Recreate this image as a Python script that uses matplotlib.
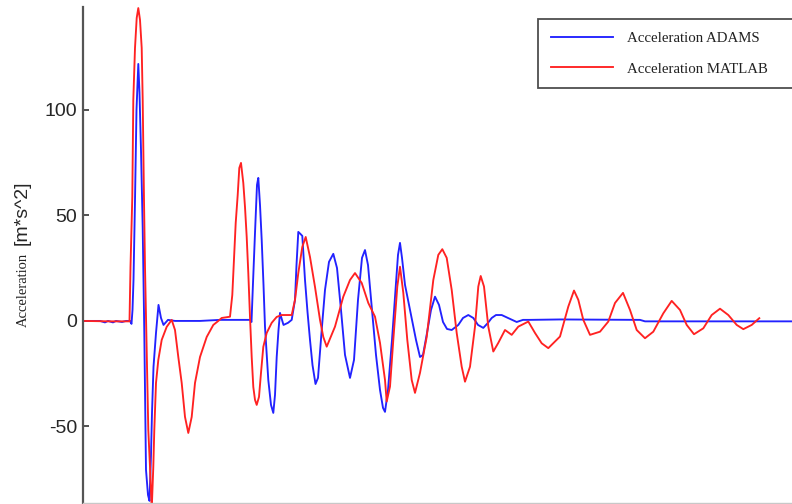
import matplotlib
matplotlib.use("Agg")
import matplotlib.pyplot as plt

# Time [s] and acceleration samples, ADAMS model
t_adams = [0.00, 0.17, 0.22, 0.25, 0.30, 0.33, 0.39, 0.43, 0.47, 0.485, 0.495, 0.505,
           0.52, 0.535, 0.553, 0.565, 0.58, 0.597, 0.613, 0.63, 0.65, 0.665, 0.68, 0.69,
           0.705, 0.73, 0.755, 0.78, 0.805, 0.85, 0.92, 1.17, 1.37, 1.67, 1.685, 1.70,
           1.72, 1.74, 1.753, 1.77, 1.787, 1.805, 1.82, 1.853, 1.88, 1.903, 1.92, 1.937,
           1.955, 1.97, 1.99, 2.005, 2.05, 2.087, 2.12, 2.135, 2.153, 2.175, 2.193, 2.22,
           2.245, 2.27, 2.295, 2.325, 2.35, 2.387, 2.42, 2.46, 2.503, 2.54, 2.58, 2.62,
           2.67, 2.71, 2.75, 2.79, 2.82, 2.85, 2.89, 2.93, 2.97, 3.00, 3.02, 3.05, 3.09,
           3.125, 3.15, 3.17, 3.19, 3.22, 3.25, 3.29, 3.33, 3.37, 3.40, 3.44, 3.48, 3.52,
           3.56, 3.60, 3.64, 3.687, 3.753, 3.80, 3.853, 3.903, 3.95, 4.003, 4.05, 4.087,
           4.13, 4.187, 4.25, 4.337, 4.40, 4.47, 4.77, 5.57, 5.62, 7.17]
a_adams = [0.0, 0.0, -0.7, 0.0, -0.7, 0.0, -0.5, 0.0, 0.0, -1.4, 5.2, 19.4,
           57.3, 100.0, 121.8, 108.1, 81.0, 44.1, -5.7, -70.6, -82.5, -85.3, -63.5, -43.6,
           -21.8, -5.7, 7.6, 1.4, -1.9, 0.5, 0.0, 0.0, 0.5, 0.5, -0.5, 18.0,
           41.7, 64.5, 67.8, 55.0, 38.4, 17.1, -2.8, -28.0, -39.8, -43.6, -35.1, -17.1,
           -4.3, 3.8, 0.5, -1.9, -0.9, 0.5, 10.0, 26.5, 42.2, 41.2, 40.3, 19.4,
           4.3, -9.0, -20.9, -29.9, -27.0, -4.3, 14.7, 28.0, 31.8, 25.1, 5.2, -16.1,
           -27.0, -18.5, 10.0, 29.9, 33.6, 26.5, 5.2, -16.1, -32.7, -41.2, -43.1, -32.7, -9.0,
           14.7, 31.3, 37.0, 29.9, 17.1, 10.0, 0.5, -9.0, -17.1, -16.1, -5.7, 5.2, 11.5,
           7.6, -0.5, -3.8, -4.3, -1.9, 1.4, 2.8, 1.4, -1.9, -3.3, -0.9, 1.4,
           2.8, 2.8, 1.4, -0.5, 0.5, 0.5, 0.7, 0.5, -0.2, -0.2]

# Time [s] and acceleration samples, MATLAB model
t_matlab = [0.00, 0.27, 0.465, 0.475, 0.493, 0.503, 0.52, 0.537, 0.553, 0.57, 0.587, 0.597,
            0.61, 0.62, 0.637, 0.653, 0.67, 0.687, 0.703, 0.713, 0.73, 0.753, 0.787, 0.837,
            0.887, 0.92, 0.953, 0.987, 1.02, 1.053, 1.087, 1.12, 1.17, 1.237, 1.303, 1.353,
            1.387, 1.47, 1.493, 1.51, 1.527, 1.547, 1.563, 1.58, 1.603, 1.62, 1.637, 1.653,
            1.67, 1.687, 1.703, 1.72, 1.737, 1.76, 1.78, 1.803, 1.837, 1.887, 1.937, 1.987,
            2.087, 2.12, 2.153, 2.193, 2.227, 2.27, 2.32, 2.37, 2.403, 2.437, 2.52, 2.603,
            2.67, 2.72, 2.787, 2.853, 2.92, 2.97, 3.02, 3.037, 3.07, 3.103, 3.143, 3.17,
            3.203, 3.243, 3.287, 3.32, 3.37, 3.437, 3.503, 3.553, 3.593, 3.637, 3.687, 3.737,
            3.787, 3.82, 3.87, 3.92, 3.953, 3.977, 4.01, 4.053, 4.103, 4.153, 4.22, 4.287,
            4.353, 4.453, 4.52, 4.587, 4.653, 4.77, 4.853, 4.91, 4.953, 5.003, 5.07, 5.17,
            5.253, 5.32, 5.40, 5.47, 5.537, 5.62, 5.703, 5.803, 5.887, 5.97, 6.037, 6.11,
            6.203, 6.287, 6.37, 6.453, 6.537, 6.603, 6.687, 6.763]
a_matlab = [0.0, -0.2, -0.2, 25.6, 58.8, 104.7, 129.4, 143.6, 148.3, 142.7, 129.4, 104.7,
            57.3, 25.6, -13.7, -51.7, -69.2, -89.6, -69.2, -51.7, -29.4, -18.5, -9.0, -2.8,
            0.5, -4.3, -17.1, -29.4, -45.5, -53.1, -45.5, -29.4, -17.1, -7.6, -1.9, 0.0,
            1.4, 2.0, 12.3, 28.9, 46.4, 59.7, 72.5, 74.9, 65.4, 54.0, 39.8, 22.7,
            1.9, -17.1, -31.3, -37.4, -39.8, -36.0, -24.6, -12.3, -5.7, -0.9, 1.9, 2.8,
            2.8, 10.0, 22.7, 35.1, 39.8, 30.3, 16.1, 0.5, -7.6, -12.2, -2.7, 11.5,
            19.4, 22.7, 18.0, 8.5, 2.0, -10.4, -28.0, -38.2, -31.1, -9.0, 16.3, 25.7,
            13.3, -9.0, -28.0, -34.1, -24.6, -7.6, 19.4, 31.3, 34.0, 29.9, 14.7, -5.7,
            -21.7, -28.8, -21.7, -2.7, 16.3, 21.3, 16.3, -2.7, -14.5, -10.4, -4.3, -6.6,
            -2.7, -0.3, -5.7, -10.6, -12.9, -7.4, 6.8, 14.4, 10.0, 0.5, -6.6, -5.1,
            -0.3, 8.5, 13.3, 5.2, -4.3, -8.2, -5.1, 3.6, 9.5, 5.2, -1.9, -6.3,
            -3.5, 2.8, 5.8, 2.8, -1.9, -3.9, -1.9, 1.3]

y_ticks = [-50, 0, 50, 100]
labels = ["Acceleration ADAMS", "Acceleration MATLAB"]

W, H = 792, 504
fig = plt.figure(figsize=(W / 100, H / 100), dpi=100)
ax = fig.add_axes([83 / W, 1 / H, (W - 83) / W, (503 - 7) / H])

l1, = ax.plot(t_adams, a_adams, color="#2222ff", lw=1.35)
l2, = ax.plot(t_matlab, a_matlab, color="#ff2222", lw=1.35)

ax.set_xlim(0, 7.09)
ax.set_ylim(-86.3, 148.8)
ax.set_yticks(y_ticks)
ax.set_yticklabels([str(v) for v in y_ticks], family="Liberation Sans",
                   fontsize=14, color="#262626")
ax.set_xticks([])
ax.tick_params(axis="y", direction="in", length=4.5, width=1.2, color="#333333", pad=4)

for side in ("top", "right"):
    ax.spines[side].set_visible(False)
ax.spines["left"].set_color("#555555")
ax.spines["left"].set_linewidth(1.6)
ax.spines["bottom"].set_color("#c8c8c8")
ax.spines["bottom"].set_linewidth(1.0)

# y-axis label in two fonts
fig.text(23 / W, 1 - 290 / H, "Acceleration", rotation=90, ha="center", va="center",
         family="Liberation Serif", fontsize=10.5, color="#222222")
fig.text(22 / W, 1 - 213 / H, "[m*s^2]", rotation=90, ha="center", va="center",
         family="Liberation Sans", fontsize=14, color="#262626")

# legend box: left edge at x=538 px, top at y=19 px, runs past the right border
leg = fig.legend([l1, l2], labels, loc="upper left",
                 bbox_to_anchor=(538 / W, 1 - 84 / H, 300 / W, 65 / H),
                 mode="expand", borderaxespad=0, frameon=True, fancybox=False,
                 handlelength=4.2, handletextpad=0.95, labelspacing=1.15, borderpad=0.85,
                 prop={"family": "Liberation Serif", "size": 10.7})
leg.get_frame().set_edgecolor("#222222")
leg.get_frame().set_linewidth(1.3)
for txt in leg.get_texts():
    txt.set_color("#222222")

fig.savefig("out.png", dpi=100)
